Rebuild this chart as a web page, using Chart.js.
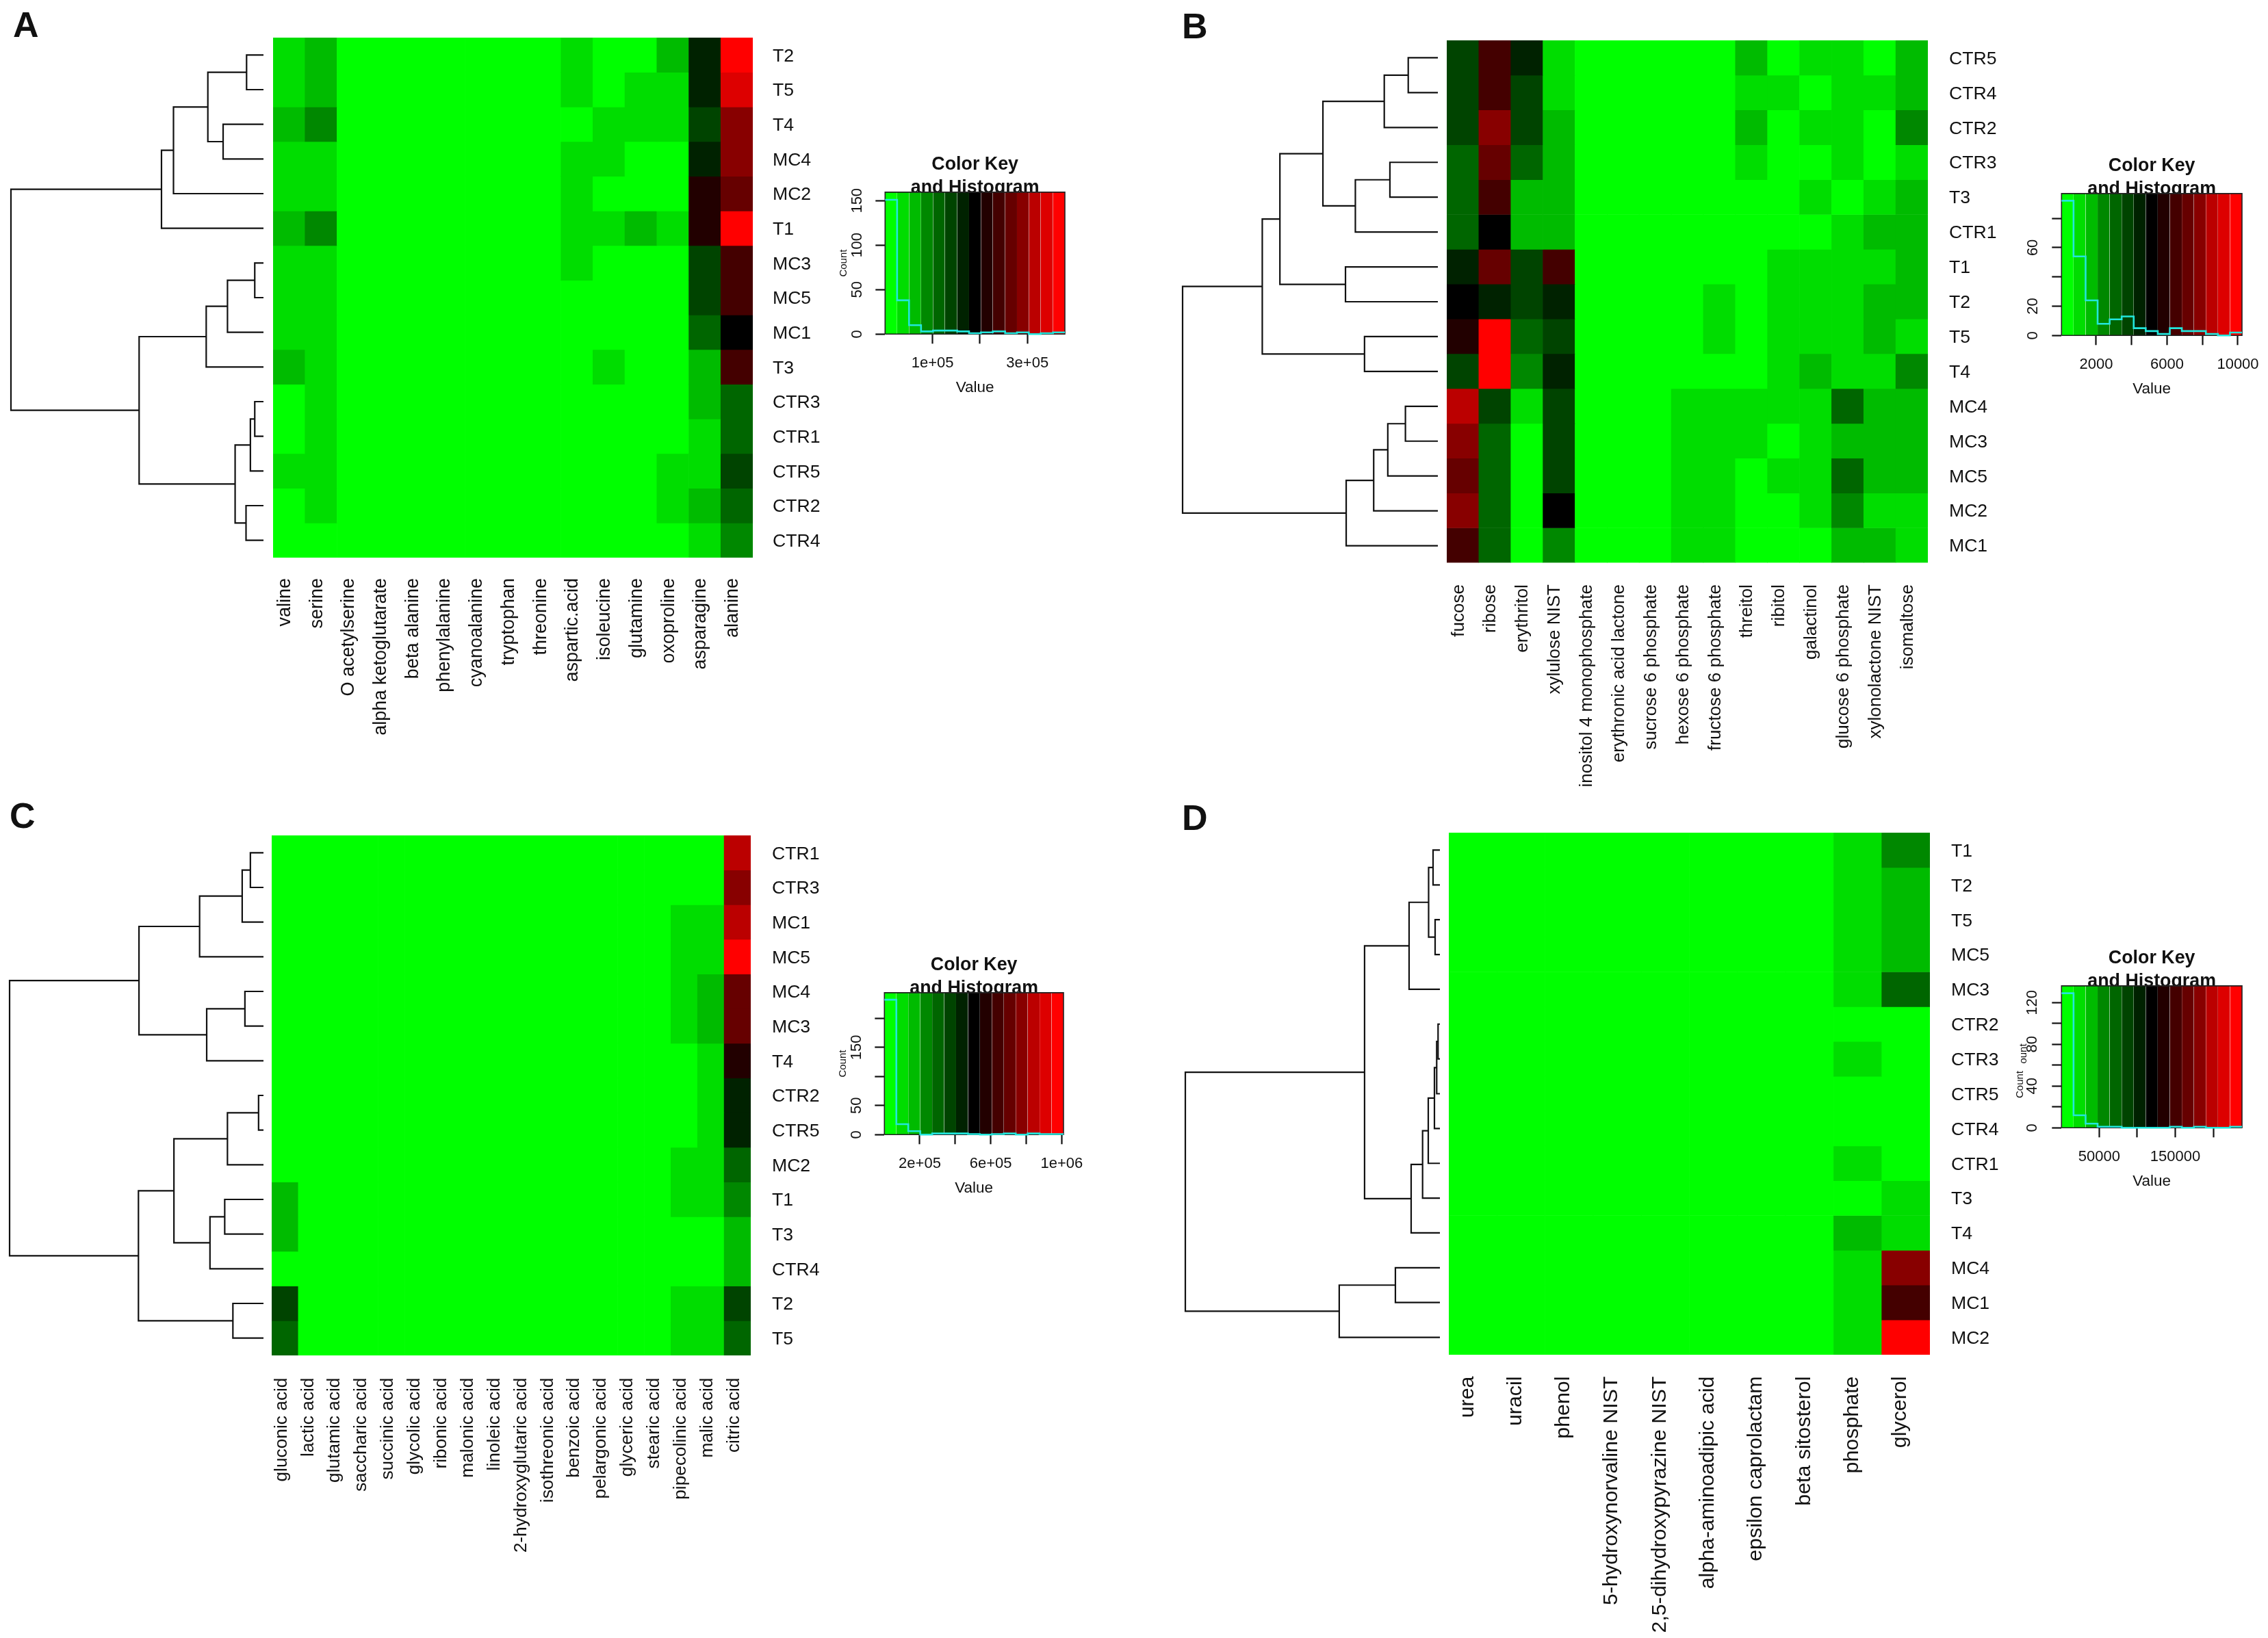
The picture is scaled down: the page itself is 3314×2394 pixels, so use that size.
<!DOCTYPE html>
<html>
<head>
<meta charset="utf-8">
<title>Heatmaps</title>
<script src="https://cdn.jsdelivr.net/npm/chart.js@4/dist/chart.umd.min.js"></script>
<style>
    html, body { margin: 0; padding: 0; background: #fff; }
    #page { position: relative; width: 3314px; height: 2394px; overflow: hidden; font-family: "Liberation Sans", Arial, sans-serif; color: #111; }
    canvas { position: absolute; }
    .txt { position: absolute; white-space: nowrap; line-height: 1; }
</style>
</head>
<body>
<div id="page"></div>
<script>
// colour key steps, green -> black -> red. Heat values below are steps on this key
const keyColors = ['#00FF00', '#00DD00', '#00BB00', '#008800', '#006600', '#004400', '#002200', '#000000',
    '#220000', '#440000', '#660000', '#880000', '#BB0000', '#DD0000', '#FF0000'];

// ---- Panel A
const colsA = ['valine', 'serine', 'O acetylserine', 'alpha ketoglutarate', 'beta alanine', 'phenylalanine', 'cyanoalanine',
    'tryptophan', 'threonine', 'aspartic.acid', 'isoleucine', 'glutamine', 'oxoproline', 'asparagine', 'alanine'];
const rowsA = ['T2', 'T5', 'T4', 'MC4', 'MC2', 'T1', 'MC3', 'MC5', 'MC1', 'T3', 'CTR3', 'CTR1', 'CTR5', 'CTR2', 'CTR4'];
const heatA = [
    [1, 2, 0, 0, 0, 0, 0, 0, 0, 1, 0, 0, 2, 6, 14],
    [1, 2, 0, 0, 0, 0, 0, 0, 0, 1, 0, 1, 1, 6, 13],
    [2, 3, 0, 0, 0, 0, 0, 0, 0, 0, 1, 1, 1, 5, 11],
    [1, 1, 0, 0, 0, 0, 0, 0, 0, 1, 1, 0, 0, 6, 11],
    [1, 1, 0, 0, 0, 0, 0, 0, 0, 1, 0, 0, 0, 8, 10],
    [2, 3, 0, 0, 0, 0, 0, 0, 0, 1, 1, 2, 1, 8, 14],
    [1, 1, 0, 0, 0, 0, 0, 0, 0, 1, 0, 0, 0, 5, 9],
    [1, 1, 0, 0, 0, 0, 0, 0, 0, 0, 0, 0, 0, 5, 9],
    [1, 1, 0, 0, 0, 0, 0, 0, 0, 0, 0, 0, 0, 4, 7],
    [2, 1, 0, 0, 0, 0, 0, 0, 0, 0, 1, 0, 0, 2, 9],
    [0, 1, 0, 0, 0, 0, 0, 0, 0, 0, 0, 0, 0, 2, 4],
    [0, 1, 0, 0, 0, 0, 0, 0, 0, 0, 0, 0, 0, 1, 4],
    [1, 1, 0, 0, 0, 0, 0, 0, 0, 0, 0, 0, 1, 1, 5],
    [0, 1, 0, 0, 0, 0, 0, 0, 0, 0, 0, 0, 1, 2, 4],
    [0, 0, 0, 0, 0, 0, 0, 0, 0, 0, 0, 0, 0, 1, 3]
];
// merges as in hclust: [left, right, height], negative = leaf row, positive = earlier merge
const mergeA = [[-1, -2, 31], [-3, -4, 74], [1, 2, 102], [3, -5, 165], [4, -6, 187], [-7, -8, 16], [6, -9, 66], [7, -10, 105],
    [-11, -12, 16], [9, -13, 24], [-14, -15, 32], [10, 11, 52], [8, 12, 228], [5, 13, 463]];
const breaksA = [0, 25300, 50500, 75800, 101000, 126000, 152000, 177000, 202000, 227000, 253000, 278000, 303000, 328000, 354000, 379000];
const countsA = [151, 38, 10, 3, 4, 4, 3, 1, 2, 3, 1, 2, 0, 1, 2];
const keyTicksA = [100000, 200000, 300000];
const keyLabelsA = ['1e+05', '', '3e+05'];
const countTicksA = [0, 50, 100, 150];
const countLabelsA = ['0', '50', '100', '150'];

// ---- Panel B
const colsB = ['fucose', 'ribose', 'erythritol', 'xylulose NIST', 'inositol 4 monophosphate', 'erythronic acid lactone',
    'sucrose 6 phosphate', 'hexose 6 phosphate', 'fructose 6 phosphate', 'threitol', 'ribitol', 'galactinol',
    'glucose 6 phosphate', 'xylonolactone NIST', 'isomaltose'];
const rowsB = ['CTR5', 'CTR4', 'CTR2', 'CTR3', 'T3', 'CTR1', 'T1', 'T2', 'T5', 'T4', 'MC4', 'MC3', 'MC5', 'MC2', 'MC1'];
const heatB = [
    [5, 9, 6, 1, 0, 0, 0, 0, 0, 2, 0, 1, 1, 0, 2],
    [5, 9, 5, 1, 0, 0, 0, 0, 0, 1, 1, 0, 1, 1, 2],
    [5, 11, 5, 2, 0, 0, 0, 0, 0, 2, 0, 1, 1, 0, 3],
    [4, 10, 4, 2, 0, 0, 0, 0, 0, 1, 0, 0, 1, 0, 1],
    [4, 9, 2, 2, 0, 0, 0, 0, 0, 0, 0, 1, 0, 1, 2],
    [4, 7, 2, 2, 0, 0, 0, 0, 0, 0, 0, 0, 1, 2, 2],
    [6, 10, 5, 9, 0, 0, 0, 0, 0, 0, 1, 1, 1, 1, 2],
    [7, 6, 5, 6, 0, 0, 0, 0, 1, 0, 1, 1, 1, 2, 2],
    [8, 14, 4, 5, 0, 0, 0, 0, 1, 0, 1, 1, 1, 2, 1],
    [5, 14, 3, 6, 0, 0, 0, 0, 0, 0, 1, 2, 1, 1, 3],
    [12, 5, 1, 5, 0, 0, 0, 1, 1, 1, 1, 1, 4, 2, 2],
    [11, 4, 0, 5, 0, 0, 0, 1, 1, 1, 0, 1, 2, 2, 2],
    [10, 4, 0, 5, 0, 0, 0, 1, 1, 0, 1, 1, 4, 2, 2],
    [11, 4, 0, 7, 0, 0, 0, 1, 1, 0, 0, 1, 3, 1, 1],
    [9, 4, 0, 3, 0, 0, 0, 1, 1, 0, 0, 0, 2, 2, 1]
];
const mergeB = [[-1, -2, 42], [1, -3, 76], [-4, -5, 68], [3, -6, 117], [2, 4, 163], [-7, -8, 131], [5, 6, 224], [-9, -10, 104],
    [7, 8, 249], [-11, -12, 46], [10, -13, 71], [11, -14, 91], [12, -15, 130], [9, 13, 362]];
const breaksB = [42, 721, 1401, 2080, 2759, 3439, 4118, 4797, 5476, 6156, 6835, 7514, 8193, 8873, 9552, 10232];
const countsB = [92, 54, 24, 8, 11, 13, 5, 3, 1, 5, 3, 3, 1, 0, 2];
const keyTicksB = [2000, 4000, 6000, 8000, 10000];
const keyLabelsB = ['2000', '', '6000', '', '10000'];
const countTicksB = [0, 20, 40, 60, 80];
const countLabelsB = ['0', '20', '', '60', ''];

// ---- Panel C
const colsC = ['gluconic acid', 'lactic acid', 'glutamic acid', 'saccharic acid', 'succinic acid', 'glycolic acid', 'ribonic acid',
    'malonic acid', 'linoleic acid', '2-hydroxyglutaric acid', 'isothreonic acid', 'benzoic acid', 'pelargonic acid',
    'glyceric acid', 'stearic acid', 'pipecolinic acid', 'malic acid', 'citric acid'];
const rowsC = ['CTR1', 'CTR3', 'MC1', 'MC5', 'MC4', 'MC3', 'T4', 'CTR2', 'CTR5', 'MC2', 'T1', 'T3', 'CTR4', 'T2', 'T5'];
const heatC = [
    [0, 0, 0, 0, 0, 0, 0, 0, 0, 0, 0, 0, 0, 0, 0, 0, 0, 12],
    [0, 0, 0, 0, 0, 0, 0, 0, 0, 0, 0, 0, 0, 0, 0, 0, 0, 11],
    [0, 0, 0, 0, 0, 0, 0, 0, 0, 0, 0, 0, 0, 0, 0, 1, 1, 12],
    [0, 0, 0, 0, 0, 0, 0, 0, 0, 0, 0, 0, 0, 0, 0, 1, 1, 14],
    [0, 0, 0, 0, 0, 0, 0, 0, 0, 0, 0, 0, 0, 0, 0, 1, 2, 10],
    [0, 0, 0, 0, 0, 0, 0, 0, 0, 0, 0, 0, 0, 0, 0, 1, 2, 10],
    [0, 0, 0, 0, 0, 0, 0, 0, 0, 0, 0, 0, 0, 0, 0, 0, 1, 8],
    [0, 0, 0, 0, 0, 0, 0, 0, 0, 0, 0, 0, 0, 0, 0, 0, 1, 6],
    [0, 0, 0, 0, 0, 0, 0, 0, 0, 0, 0, 0, 0, 0, 0, 0, 1, 6],
    [0, 0, 0, 0, 0, 0, 0, 0, 0, 0, 0, 0, 0, 0, 0, 1, 1, 4],
    [2, 0, 0, 0, 0, 0, 0, 0, 0, 0, 0, 0, 0, 0, 0, 1, 1, 3],
    [2, 0, 0, 0, 0, 0, 0, 0, 0, 0, 0, 0, 0, 0, 0, 0, 0, 2],
    [0, 0, 0, 0, 0, 0, 0, 0, 0, 0, 0, 0, 0, 0, 0, 0, 0, 2],
    [5, 0, 0, 0, 0, 0, 0, 0, 0, 0, 0, 0, 0, 0, 0, 1, 1, 5],
    [4, 0, 0, 0, 0, 0, 0, 0, 0, 0, 0, 0, 0, 0, 0, 1, 1, 4]
];
const mergeC = [[-1, -2, 24], [1, -3, 39], [2, -4, 117], [-5, -6, 34], [4, -7, 104], [3, 5, 228], [-8, -9, 9], [7, -10, 66],
    [-11, -12, 71], [9, -13, 98], [8, 10, 164], [-14, -15, 56], [11, 12, 229], [6, 13, 465]];
const breaksC = [500, 67800, 135000, 202500, 269800, 337100, 404500, 471800, 539100, 606400, 673800, 741100, 808400, 875700, 943100, 1010400];
const countsC = [232, 18, 6, 0, 2, 2, 2, 1, 0, 1, 2, 0, 2, 1, 1];
const keyTicksC = [200000, 400000, 600000, 800000, 1000000];
const keyLabelsC = ['2e+05', '', '6e+05', '', '1e+06'];
const countTicksC = [0, 50, 100, 150, 200];
const countLabelsC = ['0', '50', '', '150', ''];

// ---- Panel D
const colsD = ['urea', 'uracil', 'phenol', '5-hydroxynorvaline NIST', '2,5-dihydroxypyrazine NIST', 'alpha-aminoadipic acid',
    'epsilon caprolactam', 'beta sitosterol', 'phosphate', 'glycerol'];
const rowsD = ['T1', 'T2', 'T5', 'MC5', 'MC3', 'CTR2', 'CTR3', 'CTR5', 'CTR4', 'CTR1', 'T3', 'T4', 'MC4', 'MC1', 'MC2'];
const heatD = [
    [0, 0, 0, 0, 0, 0, 0, 0, 1, 3],
    [0, 0, 0, 0, 0, 0, 0, 0, 1, 2],
    [0, 0, 0, 0, 0, 0, 0, 0, 1, 2],
    [0, 0, 0, 0, 0, 0, 0, 0, 1, 2],
    [0, 0, 0, 0, 0, 0, 0, 0, 1, 4],
    [0, 0, 0, 0, 0, 0, 0, 0, 0, 0],
    [0, 0, 0, 0, 0, 0, 0, 0, 1, 0],
    [0, 0, 0, 0, 0, 0, 0, 0, 0, 0],
    [0, 0, 0, 0, 0, 0, 0, 0, 0, 0],
    [0, 0, 0, 0, 0, 0, 0, 0, 1, 0],
    [0, 0, 0, 0, 0, 0, 0, 0, 0, 1],
    [0, 0, 0, 0, 0, 0, 0, 0, 2, 1],
    [0, 0, 0, 0, 0, 0, 0, 0, 1, 11],
    [0, 0, 0, 0, 0, 0, 0, 0, 1, 9],
    [0, 0, 0, 0, 0, 0, 0, 0, 1, 14]
];
const mergeD = [[-1, -2, 10], [-3, -4, 7], [1, 2, 16.5], [3, -5, 45], [-6, -7, 2.7], [5, -8, 4.7], [6, -9, 8], [7, -10, 17],
    [8, -11, 25.3], [9, -12, 42], [4, 10, 110], [-13, -14, 65], [12, -15, 147], [11, 13, 371.7]];
const breaksD = [450, 16270, 32100, 47900, 63700, 79600, 95400, 111200, 127000, 142900, 158700, 174500, 190300, 206200, 222000, 237800];
const countsD = [129, 12, 4, 1, 1, 0, 0, 0, 0, 1, 0, 1, 0, 0, 1];
const keyTicksD = [50000, 100000, 150000, 200000];
const keyLabelsD = ['50000', '', '150000', ''];
const countTicksD = [0, 20, 40, 60, 80, 100, 120];
const countLabelsD = ['0', '', '40', '', '80', '', '120'];

const FONT = '"Liberation Sans", Arial, sans-serif';
const INK = '#111111';
const page = document.getElementById('page');

Chart.defaults.font.family = FONT;
Chart.defaults.color = INK;
Chart.defaults.animation = false;
Chart.defaults.responsive = false;
Chart.defaults.devicePixelRatio = 1;
Chart.defaults.plugins.legend.display = false;
Chart.defaults.plugins.tooltip.enabled = false;

function addCanvas(x, y, w, h) {
    const c = document.createElement('canvas');
    c.width = w;
    c.height = h;
    c.style.left = x + 'px';
    c.style.top = y + 'px';
    c.style.width = w + 'px';
    c.style.height = h + 'px';
    page.appendChild(c);
    return c;
}

function addText(text, x, y, size, opts = {}) {
    const d = document.createElement('div');
    d.className = 'txt';
    d.textContent = text;
    d.style.left = x + 'px';
    d.style.top = y + 'px';
    d.style.fontSize = size + 'px';
    if (opts.bold) d.style.fontWeight = 'bold';
    if (opts.rotate) d.style.transform = 'translate(-50%,-50%) rotate(-90deg)';
    page.appendChild(d);
}

// heat cells are one stacked bar per row, coloured by the key step of each column
function drawHeat(p) {
    const labelW = 140;
    const labelH = 2394 - (p.heat.y + p.heat.h);
    const canvas = addCanvas(p.heat.x, p.heat.y, Math.ceil(p.heat.w) + labelW, Math.floor(p.heat.h + labelH));
    new Chart(canvas, {
        type: 'bar',
        data: {
            labels: p.cols,
            datasets: p.rows.map((name, r) => ({
                label: name,
                data: p.cols.map(() => 1),
                backgroundColor: p.values[r].map(step => keyColors[step]),
                borderWidth: 0,
                barPercentage: 1,
                categoryPercentage: 1
            }))
        },
        options: {
            layout: { padding: 0 },
            scales: {
                x: {
                    stacked: true,
                    grid: { display: false, drawTicks: false },
                    border: { display: false },
                    ticks: {
                        autoSkip: false, minRotation: 90, maxRotation: 90, padding: p.colGap,
                        labelOffset: p.colShift,
                        font: { size: p.colFont }, color: INK
                    },
                    afterFit: s => { s.height = labelH; s.paddingLeft = 0; s.paddingRight = 0; }
                },
                y: { stacked: true, display: false, reverse: true, min: 0, max: p.rows.length },
                names: {
                    type: 'category',
                    labels: p.rows,
                    position: 'right',
                    offset: true,
                    grid: { display: false, drawTicks: false },
                    border: { display: false },
                    ticks: { autoSkip: false, padding: p.rowGap, labelOffset: 2, font: { size: 26.6 }, color: INK },
                    afterFit: s => { s.width = labelW; s.paddingTop = 0; s.paddingBottom = 0; }
                }
            }
        }
    });
}

// tree from the merge list: leaves sit at row centres, each merge is one U shaped line
function drawTree(p) {
    const nodes = [];
    const locate = id => (id < 0 ? { h: 0, y: -id - 0.5 } : nodes[id - 1]);
    const datasets = p.merge.map(([a, b, h]) => {
        const l = locate(a);
        const r = locate(b);
        nodes.push({ h: h, y: (l.y + r.y) / 2 });
        return {
            data: [{ x: l.h, y: l.y }, { x: h, y: l.y }, { x: h, y: r.y }, { x: r.h, y: r.y }],
            showLine: true,
            borderColor: INK,
            borderWidth: 2.2,
            pointRadius: 0,
            clip: false
        };
    });
    const pad = 4;
    const w = Math.round(p.tree.right - p.tree.left);
    const canvas = addCanvas(p.tree.left - pad, p.heat.y, w + pad * 2, Math.round(p.heat.h));
    new Chart(canvas, {
        type: 'scatter',
        data: { datasets },
        options: {
            layout: { padding: { left: pad, right: pad, top: 0, bottom: 0 } },
            scales: {
                x: { display: false, reverse: true, min: 0, max: p.merge[p.merge.length - 1][2] },
                y: { display: false, reverse: true, min: 0, max: p.rows.length }
            }
        }
    });
}

// colour key with histogram: filled bands for the key steps, box, cyan step line of the counts
function drawKey(p) {
    const k = p.key;
    const axisW = 69.3, titleH = 58.9, axisH = 91.7, rightPad = 60;
    const plotW = k.right - k.left, plotH = k.bottom - k.top;
    const canvas = addCanvas(k.left - axisW, k.top - titleH, Math.round(axisW + plotW + rightPad), Math.round(titleH + plotH + axisH));
    const xMin = p.breaks[0], xMax = p.breaks[p.breaks.length - 1];
    const bands = keyColors.map((color, i) => ({
        data: [{ x: p.breaks[i], y: k.top2 }, { x: p.breaks[i + 1], y: k.top2 }],
        showLine: true, fill: 'origin', backgroundColor: color, borderWidth: 0, borderColor: color, pointRadius: 0, order: 2
    }));
    const histogram = p.counts.map((n, i) => ({ x: p.breaks[i], y: n }));
    histogram.push({ x: xMax, y: p.counts[p.counts.length - 1] });
    const datasets = [
        { data: histogram, showLine: true, stepped: 'before', borderColor: '#22E6DC', borderWidth: 2.6, pointRadius: 0, clip: false, order: 0 },
        {
            data: [{ x: xMin, y: 0 }, { x: xMax, y: 0 }, { x: xMax, y: k.top2 }, { x: xMin, y: k.top2 }, { x: xMin, y: 0 }],
            showLine: true, borderColor: '#222222', borderWidth: 1.6, pointRadius: 0, clip: false, order: 1
        }
    ].concat(bands);

    new Chart(canvas, {
        type: 'scatter',
        data: { datasets },
        options: {
            layout: { padding: { right: rightPad } },
            plugins: {
                title: {
                    display: true,
                    text: ['Color Key', 'and Histogram'],
                    fullSize: false,
                    color: INK,
                    font: { size: 26.8, weight: 'bold', lineHeight: 1.25 },
                    padding: { top: 2, bottom: titleH - 69 }
                }
            },
            scales: {
                x: {
                    type: 'linear', min: xMin, max: xMax, bounds: 'data',
                    grid: { drawOnChartArea: false, drawTicks: true, tickLength: 14, tickWidth: 2.2, tickColor: '#111' },
                    border: { display: false },
                    ticks: { autoSkip: false, maxRotation: 0, padding: 15, font: { size: 22 }, color: INK, callback: (v, i) => p.keyLabels[i] },
                    title: { display: true, text: 'Value', color: INK, padding: 0, font: { size: 22.5, lineHeight: 1.2 } },
                    afterBuildTicks: s => { s.ticks = p.keyTicks.map(v => ({ value: v })); },
                    afterFit: s => { s.height = axisH; s.paddingLeft = 0; s.paddingRight = 0; }
                },
                y: {
                    type: 'linear', min: 0, max: k.top2, bounds: 'data',
                    grid: { drawOnChartArea: false, drawTicks: true, tickLength: 14, tickWidth: 2.2, tickColor: '#111' },
                    border: { display: false },
                    ticks: {
                        autoSkip: false, minRotation: 90, maxRotation: 90, crossAlign: 'center', padding: k.tickGap,
                        font: { size: 22 }, color: INK, callback: (v, i) => p.countLabels[i]
                    },
                    title: { display: p.countTitle, text: 'Count', color: INK, padding: 0, font: { size: 15, lineHeight: 1.2 } },
                    afterBuildTicks: s => { s.ticks = p.countTicks.map(v => ({ value: v })); },
                    afterFit: s => { s.width = axisW; s.paddingTop = 0; s.paddingBottom = 0; }
                }
            }
        }
    });
}

const panels = [
    {
        cols: colsA, rows: rowsA, values: heatA, merge: mergeA, breaks: breaksA, counts: countsA,
        keyTicks: keyTicksA, keyLabels: keyLabelsA, countTicks: countTicksA, countLabels: countLabelsA, countTitle: true,
        heat: { x: 399.4, y: 55, w: 700.1, h: 760 }, tree: { left: 16, right: 385 },
        colFont: 27, colGap: 30, colShift: -6, rowGap: 29,
        key: { left: 1293.3, top: 281, right: 1555.7, bottom: 488.3, top2: 159.5, tickGap: 8.3 }
    },
    {
        cols: colsB, rows: rowsB, values: heatB, merge: mergeB, breaks: breaksB, counts: countsB,
        keyTicks: keyTicksB, keyLabels: keyLabelsB, countTicks: countTicksB, countLabels: countLabelsB, countTitle: false,
        heat: { x: 2113.8, y: 58.7, w: 703, h: 763.7 }, tree: { left: 1727.8, right: 2100.4 },
        colFont: 26, colGap: 31.7, colShift: -6, rowGap: 31,
        key: { left: 3012.7, top: 283.3, right: 3276, bottom: 491, top2: 96.9, tickGap: 14.8 }
    },
    {
        cols: colsC, rows: rowsC, values: heatC, merge: mergeC, breaks: breaksC, counts: countsC,
        keyTicks: keyTicksC, keyLabels: keyLabelsC, countTicks: countTicksC, countLabels: countLabelsC, countTitle: true,
        heat: { x: 397, y: 1221, w: 700, h: 760 }, tree: { left: 13.6, right: 384.2 },
        colFont: 26.3, colGap: 32.5, colShift: -5, rowGap: 31,
        key: { left: 1292, top: 1451, right: 1553.7, bottom: 1658.3, top2: 244, tickGap: 8.3 }
    },
    {
        cols: colsD, rows: rowsD, values: heatD, merge: mergeD, breaks: breaksD, counts: countsD,
        keyTicks: keyTicksD, keyLabels: keyLabelsD, countTicks: countTicksD, countLabels: countLabelsD, countTitle: false,
        heat: { x: 2117, y: 1217, w: 703, h: 763 }, tree: { left: 1732, right: 2103.7 },
        colFont: 30.4, colGap: 31.5, colShift: -8, rowGap: 31,
        key: { left: 3012.3, top: 1441, right: 3276, bottom: 1648.7, top2: 136, tickGap: 9.6 }
    }
];

panels.forEach(p => {
    drawHeat(p);
    drawTree(p);
    drawKey(p);
});

addText('A', 19, 10, 52, { bold: true });
addText('B', 1727, 12, 52, { bold: true });
addText('C', 14, 1166, 52, { bold: true });
addText('D', 1727, 1169, 52, { bold: true });
addText('Count', 2950, 1585, 15, { rotate: true });
addText('ount', 2955, 1540, 15, { rotate: true });
</script>
</body>
</html>
